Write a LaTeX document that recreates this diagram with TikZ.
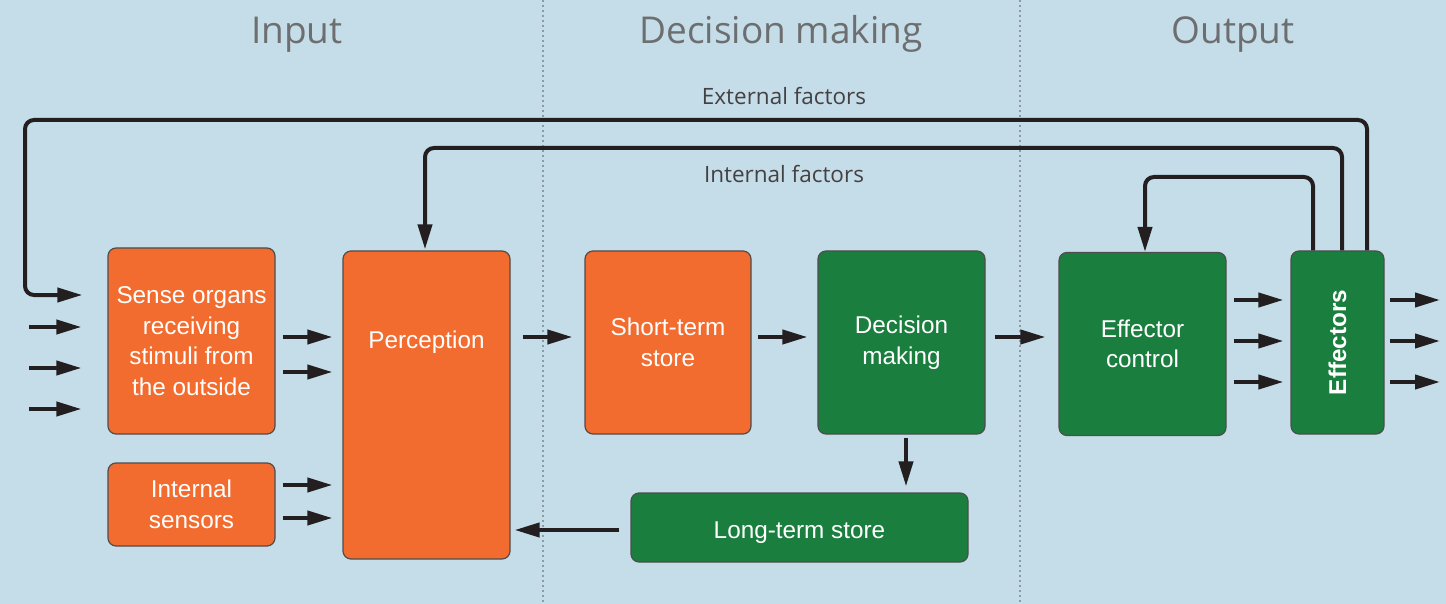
\documentclass[tikz,border=0pt]{standalone}
\usepackage{fontspec}
\setmainfont{Liberation Sans}
\newfontfamily\headfont{Open Sans}
\usetikzlibrary{arrows.meta}

\definecolor{bgblue}{HTML}{C5DDE8}
\definecolor{boxorange}{HTML}{F26C2F}
\definecolor{boxgreen}{HTML}{1A7F3E}
\definecolor{inkdark}{HTML}{231F20}
\definecolor{headgray}{HTML}{6D6E70}
\definecolor{divgray}{HTML}{8A9BA5}

\tikzset{
  block/.style={draw=inkdark!80, line width=1.2pt, rounded corners=8pt,
    text=white, align=center, inner sep=0pt,
    font=\fontsize{24.3}{30.5}\selectfont},
  orangebox/.style={block, fill=boxorange},
  greenbox/.style={block, fill=boxgreen},
  flow/.style={draw=inkdark, line width=4pt,
    -{Triangle[length=25pt,width=14pt]}},
  routed/.style={flow, rounded corners=9pt},
  heading/.style={anchor=base, text=headgray, font=\headfont\fontsize{37}{42}\selectfont},
  factor/.style={anchor=base, text=inkdark!85, font=\headfont\fontsize{22.5}{26}\selectfont},
  divider/.style={draw=divgray, line width=1.5pt, dash pattern=on 2pt off 3pt},
}

\begin{document}
\begin{tikzpicture}[x=1pt, y=-1pt]
  \useasboundingbox[fill=bgblue] (0,0) rectangle (1446,604);

  % column dividers
  \coordinate (d1top) at (543,0);  \coordinate (d1bot) at (543,604);
  \coordinate (d2top) at (1020,0); \coordinate (d2bot) at (1020,604);
  \draw[divider] (d1top) -- (d1bot);
  \draw[divider] (d2top) -- (d2bot);

  % column headings
  \node[heading] (hin)  at (297,44)  {Input};
  \node[heading] (hdec) at (781,44)  {Decision making};
  \node[heading] (hout) at (1233,44) {Output};

  % blocks
  \node[orangebox, minimum width=167pt, minimum height=186pt] (sense) at (191.5,341)
    {Sense organs\\receiving\\stimuli from\\the outside};
  \node[orangebox, minimum width=167pt, minimum height=83pt] (intsens) at (191.5,504.5)
    {Internal\\sensors};
  \node[orangebox, minimum width=167pt, minimum height=308pt] (perc) at (426.5,405) {};
  \node[text=white, font=\fontsize{24.3}{30.5}\selectfont] (perctext) at (426.5,342) {Perception};
  \node[orangebox, minimum width=166pt, minimum height=183pt] (short) at (668,342.5)
    {Short-term\\store};
  \node[greenbox, minimum width=167pt, minimum height=183pt] (dec) at (901.5,342.5)
    {Decision\\making};
  \node[greenbox, minimum width=337pt, minimum height=69pt,
        text height=22pt, text depth=0pt] (lts) at (799.5,527.5)
    {Long-term store};
  \node[greenbox, minimum width=167pt, minimum height=183pt] (ectl) at (1142.5,344)
    {Effector\\control};
  \node[greenbox, minimum width=93pt, minimum height=183pt] (eff) at (1337.5,342.5) {};
  \node[text=white, rotate=90, font=\bfseries\fontsize{24.3}{28}\selectfont] (efftext)
    at (1337.5,342.5) {Effectors};

  % row levels
  \coordinate (yA) at (0,337);
  \coordinate (yB) at (0,372);
  \coordinate (yC) at (0,485);
  \coordinate (yD) at (0,518);
  \coordinate (yE) at (0,300);
  \coordinate (yF) at (0,341);
  \coordinate (yG) at (0,382);
  \coordinate (yM) at (0,530);
  \coordinate (xM) at (906,0);

  % stimuli arriving from outside
  \coordinate (in1) at (29,327);
  \coordinate (in2) at (29,368);
  \coordinate (in3) at (29,409);
  \foreach \c in {in1,in2,in3}
    \draw[flow, shorten >=26pt] (\c) -- (sense.west |- \c);

  % input to perception
  \draw[flow, shorten <=7pt, shorten >=10pt] (sense.east |- yA) -- (perc.west |- yA);
  \draw[flow, shorten <=7pt, shorten >=10pt] (sense.east |- yB) -- (perc.west |- yB);
  \draw[flow, shorten <=7pt, shorten >=10pt] (intsens.east |- yC) -- (perc.west |- yC);
  \draw[flow, shorten <=7pt, shorten >=10pt] (intsens.east |- yD) -- (perc.west |- yD);

  % main chain
  \draw[flow, shorten <=12pt, shorten >=12pt] (perc.east |- yA) -- (short.west |- yA);
  \draw[flow, shorten <=6pt, shorten >=10pt] (short.east |- yA) -- (dec.west |- yA);
  \draw[flow, shorten <=9pt, shorten >=13pt] (dec.east |- yA) -- (ectl.west |- yA);
  \foreach \c in {yE,yF,yG}
    \draw[flow, shorten <=7pt, shorten >=7pt] (ectl.east |- \c) -- (eff.west |- \c);

  % output of the effectors
  \coordinate (out1) at (1440,300);
  \coordinate (out2) at (1440,341);
  \coordinate (out3) at (1440,382);
  \foreach \c in {out1,out2,out3}
    \draw[flow, shorten <=5pt] (eff.east |- \c) -- (\c);

  % memory loop
  \draw[flow, shorten <=3pt, shorten >=6pt] (dec.south -| xM) -- (lts.north -| xM);
  \draw[flow, shorten <=11pt, shorten >=4pt] (lts.west |- yM) -- (perc.east |- yM);

  % feedback routes
  \coordinate (extR) at (1367,120);
  \coordinate (extL) at (25,120);
  \coordinate (extIn) at (25,295);
  \draw[routed, shorten >=25pt] (eff.north -| extR) -- (extR) -- (extL) -- (extIn) -- (sense.west |- extIn);

  \coordinate (intR) at (1342,148);
  \coordinate (intL) at (425,148);
  \draw[routed, shorten >=1pt] (eff.north -| intR) -- (intR) -- (intL) -- (perc.north -| intL);

  \coordinate (ownR) at (1313,177);
  \coordinate (ownL) at (1145,177);
  \draw[routed] (eff.north -| ownR) -- (ownR) -- (ownL) -- (ectl.north -| ownL);

  \node[factor] (extlabel) at (784,105) {External factors};
  \node[factor] (intlabel) at (784,183) {Internal factors};
\end{tikzpicture}
\end{document}
